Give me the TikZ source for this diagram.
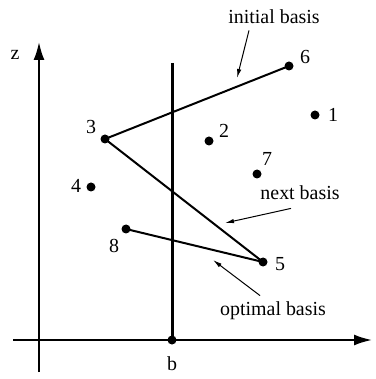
\documentclass[tikz,border=0pt]{standalone}
\usepackage{fontspec}
\setmainfont{Liberation Serif}
\usetikzlibrary{arrows.meta,positioning}
\tikzset{
  pointdot/.style={circle, fill=black, inner sep=0pt, minimum size=4.5bp},
  ptlabel/.style={inner sep=1pt, font=\normalsize},
  axis/.style={-{Latex[length=9bp,width=5.5bp]}, line width=1bp},
  path/.style={line width=1bp},
  bline/.style={line width=1.5bp},
  note/.style={-{Latex[length=4.5bp,width=2.2bp]}, line width=0.5bp},
  notetext/.style={inner sep=1pt, font=\normalsize}
}
\begin{document}
\begin{tikzpicture}[x=0.5bp,y=-0.5bp]
  \useasboundingbox (0,0) rectangle (376,379);
  % axes
  \coordinate (xs) at (13,340);
  \coordinate (xe) at (372,340);
  \coordinate (zs) at (39,372);
  \coordinate (ze) at (39,42);
  \draw[axis] (xs) -- (xe);
  \draw[axis] (zs) -- (ze);
  \node[ptlabel] (zlab) at (15,55) {z};
  % constraint line
  \coordinate (btop) at (172,63);
  \node[pointdot] (bdot) at (172,340) {};
  \draw[bline] (btop) -- (bdot.center);
  \node[ptlabel] (blab) at (172,364) {b};
  % points
  \node[pointdot] (p1) at (315,115) {};
  \node[pointdot] (p2) at (209,141) {};
  \node[pointdot] (p3) at (105,139) {};
  \node[pointdot] (p4) at (91,187) {};
  \node[pointdot] (p5) at (263,262) {};
  \node[pointdot] (p6) at (289,66) {};
  \node[pointdot] (p7) at (257,174) {};
  \node[pointdot] (p8) at (126,229) {};
  \node[ptlabel] (l1) at (333,115) {1};
  \node[ptlabel] (l2) at (224,131) {2};
  \node[ptlabel] (l3) at (91,127) {3};
  \node[ptlabel] (l4) at (76,186) {4};
  \node[ptlabel] (l5) at (280,264) {5};
  \node[ptlabel] (l6) at (305,57) {6};
  \node[ptlabel] (l7) at (267,159) {7};
  \node[ptlabel] (l8) at (114,246) {8};
  % bases
  \draw[path] (p3.center) -- (p6.center);
  \draw[path] (p3.center) -- (p5.center);
  \draw[path] (p8.center) -- (p5.center);
  % annotations
  \node[notetext] (init) at (274,17) {initial basis};
  \node[notetext] (next) at (300,193) {next basis};
  \node[notetext] (opt) at (273,311) {optimal basis};
  \coordinate (a1) at (237,78);
  \coordinate (a2) at (225,223);
  \coordinate (a3) at (213,260);
  \draw[note] ([xshift=-12.5bp,yshift=-2bp]init.south) -- (a1);
  \draw[note] ([xshift=-4.5bp,yshift=-3bp]next.south) -- (a2);
  \draw[note] ([xshift=-6.5bp,yshift=2bp]opt.north) -- (a3);
\end{tikzpicture}
\end{document}
